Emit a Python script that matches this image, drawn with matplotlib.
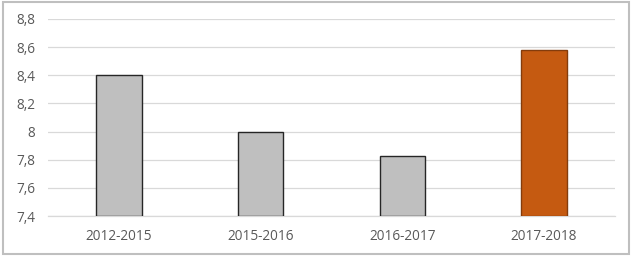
import matplotlib

matplotlib.use("Agg")
import matplotlib.pyplot as plt
from matplotlib.patches import Rectangle
from matplotlib.ticker import FuncFormatter

periods = ["2012-2015", "2015-2016", "2016-2017", "2017-2018"]
values = [8.40, 8.00, 7.83, 8.58]
face_colors = ["#bfbfbf", "#bfbfbf", "#bfbfbf", "#c55a11"]
edge_colors = ["#262626", "#262626", "#262626", "#843c0c"]
y_ticks = [7.4, 7.6, 7.8, 8.0, 8.2, 8.4, 8.6, 8.8]

plt.rcParams["font.family"] = ["Open Sans", "DejaVu Sans"]

fig = plt.figure(figsize=(6.32, 2.56), dpi=100)
ax = fig.add_axes([0.076, 0.156, 0.897, 0.770])

x = range(len(periods))
ax.bar(x, [v - 7.4 for v in values], bottom=7.4, width=0.32,
       color=face_colors, edgecolor=edge_colors, linewidth=1.0, zorder=3)

ax.set_ylim(7.4, 8.8)
ax.set_xlim(-0.5, len(periods) - 0.5)
ax.set_yticks(y_ticks)
ax.yaxis.set_major_formatter(FuncFormatter(lambda v, _: f"{v:g}".replace(".", ",")))
ax.set_xticks(list(x))
ax.set_xticklabels(periods)
ax.tick_params(axis="both", length=0, labelsize=9.8, colors="#595959")
ax.tick_params(axis="x", pad=9)
ax.tick_params(axis="y", pad=9)

ax.grid(axis="y", color="#d9d9d9", linewidth=0.9, zorder=0)
for side in ("top", "right", "left"):
    ax.spines[side].set_visible(False)
ax.spines["bottom"].set_color("#d9d9d9")
ax.spines["bottom"].set_linewidth(0.9)

fig.patches.append(Rectangle((0.004, 0.008), 0.992, 0.984, transform=fig.transFigure,
                             fill=False, edgecolor="#bfbfbf", linewidth=1.5))

fig.savefig("out.png", dpi=100)
